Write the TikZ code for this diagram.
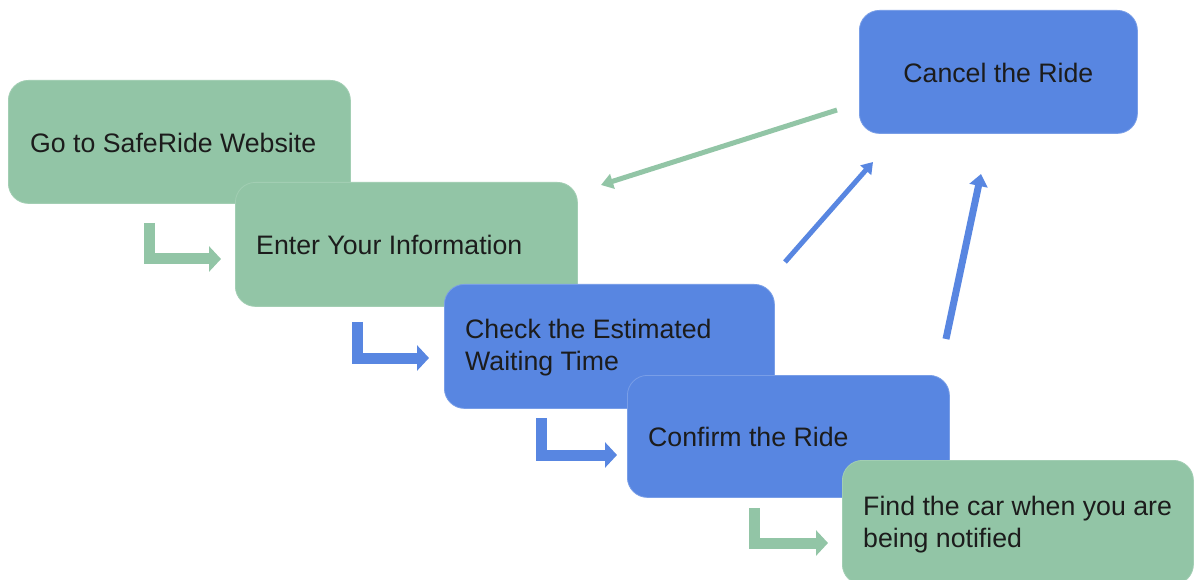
\documentclass[tikz,border=0pt]{standalone}
\usepackage{fontspec}
\setmainfont{Liberation Sans}
\usetikzlibrary{arrows.meta,calc}
\definecolor{sgreen}{RGB}{146,197,166}
\definecolor{sblue}{RGB}{88,134,225}
\definecolor{stext}{RGB}{28,28,28}
\tikzset{
  box/.style={rounded corners=20pt, inner sep=0pt, anchor=north west, line width=0.8pt},
  gbox/.style={box, fill=sgreen, draw=sgreen!85!white},
  bbox/.style={box, fill=sblue, draw=sblue!80!white},
  lbl/.style={font=\fontsize{26.7}{32}\selectfont, text=stext, align=left, inner sep=0pt},
  elbowG/.style={draw=sgreen, line width=11pt, line cap=butt, line join=miter, -{Triangle[length=12pt,width=25pt]}},
  elbowB/.style={draw=sblue, line width=11pt, line cap=butt, line join=miter, -{Triangle[length=12pt,width=25pt]}},
  thinG/.style={draw=sgreen, line width=5pt, -{Triangle[length=12pt,width=15pt]}},
  thinB/.style={draw=sblue, line width=5pt, -{Triangle[length=11pt,width=14pt]}},
  thickB/.style={draw=sblue, line width=7pt, -{Triangle[length=12pt,width=18pt]}}
}
\begin{document}
\begin{tikzpicture}[x=1pt,y=-1pt]
\useasboundingbox[fill=white] (0,0) rectangle (1195,580);
\clip (0,0) rectangle (1195,580);
% boxes
\node[gbox, minimum width=342pt, minimum height=123pt] (b1) at (8,80) {};
\node[lbl, anchor=west] (t1) at ([xshift=22pt,yshift=-1pt]b1.west) {Go to SafeRide Website};
\node[gbox, minimum width=342pt, minimum height=124pt] (b2) at (235,182) {};
\node[lbl, anchor=west] (t2) at ([xshift=21pt,yshift=-1pt]b2.west) {Enter Your Information};
\node[bbox, minimum width=330pt, minimum height=124pt] (b3) at (444,284) {};
\node[lbl, anchor=west] (t3) at ([xshift=21pt,yshift=-1pt]b3.west) {Check the Estimated\\Waiting Time};
\node[bbox, minimum width=322pt, minimum height=122pt] (b4) at (627,375) {};
\node[lbl, anchor=west] (t4) at ([xshift=21pt,yshift=-1pt]b4.west) {Confirm the Ride};
\node[gbox, minimum width=351pt, minimum height=124pt] (b5) at (842,460) {};
\node[lbl, anchor=west] (t5) at ([xshift=21pt,yshift=-2pt]b5.west) {Find the car when you are\\being notified};
\node[bbox, minimum width=278pt, minimum height=123pt] (c) at (859,10) {};
\node[lbl] (tc) at ([yshift=-1pt]c.center) {Cancel the Ride};
% elbow connectors
\coordinate (e1s) at (149,223); \coordinate (e1t) at (221,259);
\coordinate (e2s) at (357,322); \coordinate (e2t) at (429,358);
\coordinate (e3s) at (541,418); \coordinate (e3t) at (617,455);
\coordinate (e4s) at (754,508); \coordinate (e4t) at (828,543);
\draw[elbowG] (e1s) |- (e1t);
\draw[elbowB] (e2s) |- (e2t);
\draw[elbowB] (e3s) |- (e3t);
\draw[elbowG] (e4s) |- (e4t);
% cancel-related connectors
\coordinate (g1s) at (837,110); \coordinate (g1t) at (601,185);
\coordinate (a1s) at (785,262); \coordinate (a1t) at (873,162);
\coordinate (a2s) at (946,339); \coordinate (a2t) at (981,174);
\draw[thinG] (g1s) -- (g1t);
\draw[thinB] (a1s) -- (a1t);
\draw[thickB] (a2s) -- (a2t);
\end{tikzpicture}
\end{document}
